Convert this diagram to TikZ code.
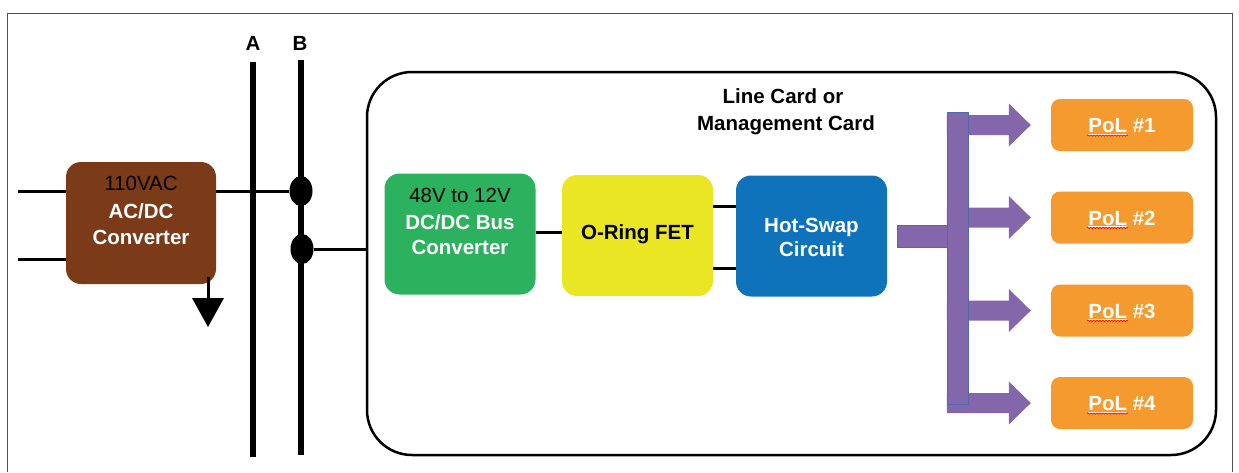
\documentclass[tikz,border=0pt]{standalone}
\usepackage{fontspec}
\setmainfont{Liberation Sans}
\usetikzlibrary{shapes.geometric,calc,decorations.pathmorphing}

\definecolor{acdcbrown}{RGB}{123,58,24}
\definecolor{busgreen}{RGB}{44,178,94}
\definecolor{fetyellow}{RGB}{234,230,36}
\definecolor{swapblue}{RGB}{14,115,186}
\definecolor{railpurple}{RGB}{132,102,171}
\definecolor{railedge}{RGB}{78,106,168}
\definecolor{polorange}{RGB}{244,154,46}
\definecolor{framegray}{RGB}{80,80,80}

\begin{document}
\begin{tikzpicture}[x=1pt,y=-1pt,
  txt/.style={font=\fontsize{20.5}{24}\selectfont, inner sep=0, anchor=base},
  btxt/.style={font=\fontsize{20.5}{24}\selectfont\bfseries, inner sep=0, anchor=base},
  block/.style={rectangle, rounded corners=15pt, inner sep=0, draw=none,
                minimum width=151pt, minimum height=121pt},
  polbox/.style={rectangle, rounded corners=9pt, inner sep=0, draw=none,
                 fill=polorange, minimum width=142pt, minimum height=52pt},
  wire/.style={line width=3pt},
  busline/.style={line width=6pt},
  joint/.style={ellipse, fill=black, minimum width=23pt, minimum height=30pt, inner sep=0},
  rail/.style={fill=railpurple},
  squiggle/.style={red, line width=0.6pt, decorate,
                   decoration={snake, amplitude=0.7pt, segment length=3pt}}
]
\useasboundingbox (0,0) rectangle (1239,472);

% outer frame
\draw[framegray, line width=1pt] (7,472) -- (7,13) -- (1232,13) -- (1232,472);

% supply buses A and B
\coordinate (aTop) at (253,62);
\coordinate (aBot) at (253,457);
\coordinate (bTop) at (301,60);
\coordinate (bBot) at (301,455);
\node[btxt] (labA) at (253,50) {A};
\node[btxt] (labB) at (300,50) {B};
\draw[busline] (aTop) -- (aBot);
\draw[busline] (bTop) -- (bBot);
\node[joint] (dot1) at (301,191) {};
\node[joint] (dot2) at (302,249) {};

% AC/DC front end
\node[block, fill=acdcbrown, minimum width=150pt, minimum height=122pt] (acdc) at (141,223) {};
\node[txt] (acdcA) at (141,190) {110VAC};
\node[btxt, text=white] (acdcB) at (141,218) {AC/DC};
\node[btxt, text=white] (acdcC) at (141,244) {Converter};
\coordinate (in1) at (18,191);
\coordinate (in2) at (18,259);
\draw[wire] (in1) -- (in1 -| acdc.west);
\draw[wire] (in2) -- (in2 -| acdc.west);
\draw[wire] (acdc.east |- dot1) -- (dot1);

% ground symbol
\coordinate (gnd) at (208,277);
\coordinate (gndTip) at (208,298);
\draw[line width=3pt] (gnd) -- (gndTip);
\fill (192,298) -- (224,298) -- (208,327) -- cycle;

% line card outline
\node[rectangle, draw, line width=2.5pt, rounded corners=45pt, inner sep=0,
      minimum width=849pt, minimum height=383pt] (card) at (791.5,263.5) {};
\draw[wire] (dot2) -- (dot2 -| card.west);
\node[btxt] (title1) at (783,103) {Line Card or};
\node[btxt] (title2) at (786,130) {Management Card};

% power path on the card
\node[block, fill=busgreen] (dcdc) at (460,234) {};
\node[txt] (dcdcA) at (460,202) {48V to 12V};
\node[btxt, text=white] (dcdcB) at (460,229) {DC/DC Bus};
\node[btxt, text=white] (dcdcC) at (460,254) {Converter};

\node[block, fill=fetyellow] (fet) at (637.5,235.5) {};
\node[btxt] (fetA) at (637.5,239) {O-Ring FET};

\node[block, fill=swapblue, minimum width=151pt] (hs) at (811.5,236) {};
\node[btxt, text=white] (hsA) at (811.5,232) {Hot-Swap};
\node[btxt, text=white] (hsB) at (811.5,256) {Circuit};

\draw[wire] (dcdc.east |- 0,232) -- (fet.west |- 0,232);
\draw[wire] (fet.east |- 0,206) -- (hs.west |- 0,206);
\draw[wire] (fet.east |- 0,268) -- (hs.west |- 0,268);

% point-of-load converters
\foreach \i/\y in {1/125, 2/217.5, 3/310.5, 4/403} {
  \node[polbox] (pol\i) at (1122,\y) {};
  \node[btxt, text=white] (polt\i) at (1122,\y+7.5) {\underline{PoL} \#\i};
  \draw[squiggle] (1087,\y+10.5) -- (1128,\y+10.5);
}

% distribution rail: stub, arrows, vertical bar
\draw[rail, draw=railedge, line width=0.6pt] (hs.east |- 0,225) ++(10,0) rectangle (947,247);
\foreach \i in {1,...,4} {
  \fill[railpurple]
    ($(pol\i.west)+(-104,-10)$) -- ($(pol\i.west)+(-42,-10)$) --
    ($(pol\i.west)+(-42,-21.5)$) -- ($(pol\i.west)+(-20,0)$) --
    ($(pol\i.west)+(-42,21.5)$) -- ($(pol\i.west)+(-42,10)$) --
    ($(pol\i.west)+(-104,10)$) -- cycle;
}
\node[rectangle, fill=railpurple, draw=railedge, line width=0.6pt, inner sep=0,
      minimum width=21pt, minimum height=292pt] (hub) at (957.5,258) {};
\end{tikzpicture}
\end{document}
